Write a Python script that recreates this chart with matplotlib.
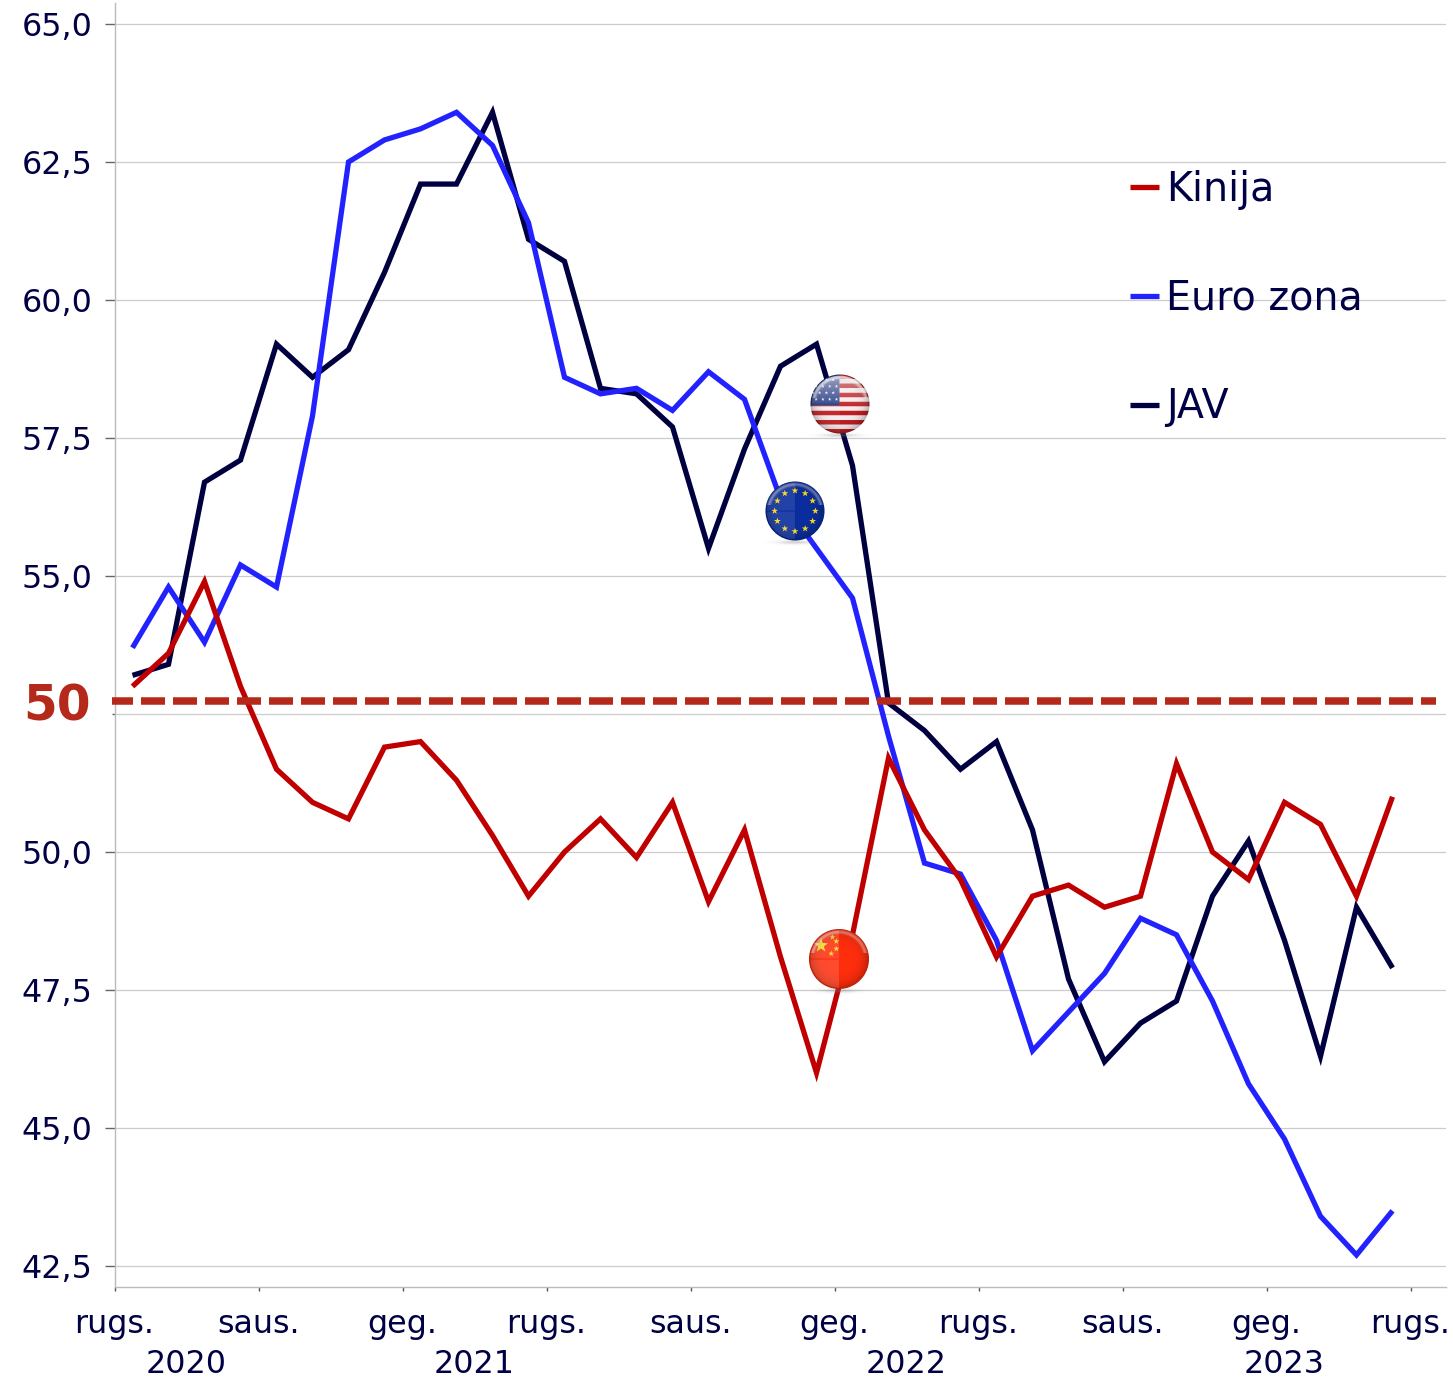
import numpy as np
import matplotlib
matplotlib.use("Agg")
import matplotlib.pyplot as plt
from matplotlib.lines import Line2D
from matplotlib.offsetbox import OffsetImage, AnnotationBbox
from matplotlib.path import Path
from matplotlib.ticker import FuncFormatter

# monthly PMI values, rugs. 2020 - rugp. 2023
kinija = [53.0, 53.6, 54.9, 53.0, 51.5, 50.9, 50.6, 51.9, 52.0, 51.3, 50.3, 49.2,
          50.0, 50.6, 49.9, 50.9, 49.1, 50.4, 48.1, 46.0, 48.5, 51.7, 50.4, 49.5,
          48.1, 49.2, 49.4, 49.0, 49.2, 51.6, 50.0, 49.5, 50.9, 50.5, 49.2, 51.0]
euro_zona = [53.7, 54.8, 53.8, 55.2, 54.8, 57.9, 62.5, 62.9, 63.1, 63.4, 62.8, 61.4,
             58.6, 58.3, 58.4, 58.0, 58.7, 58.2, 56.4, 55.5, 54.6, 52.1, 49.8, 49.6,
             48.4, 46.4, 47.1, 47.8, 48.8, 48.5, 47.3, 45.8, 44.8, 43.4, 42.7, 43.5]
jav = [53.2, 53.4, 56.7, 57.1, 59.2, 58.6, 59.1, 60.5, 62.1, 62.1, 63.4, 61.1,
       60.7, 58.4, 58.3, 57.7, 55.5, 57.3, 58.8, 59.2, 57.0, 52.7, 52.2, 51.5,
       52.0, 50.4, 47.7, 46.2, 46.9, 47.3, 49.2, 50.2, 48.4, 46.3, 49.0, 47.9]

month_labels = ["rugs.", "saus.", "geg.", "rugs.", "saus.", "geg.", "rugs.", "saus.", "geg.", "rugs."]
years = ["2020", "2021", "2022", "2023"]
year_starts = [0, 4, 16, 28]
y_ticks = [42.5, 45.0, 47.5, 50.0, 52.5, 55.0, 57.5, 60.0, 62.5, 65.0]
threshold = 52.74

TEXT = "#000044"
RED = "#C00000"
BLUE = "#2222FF"
NAVY = "#000040"
DASH = "#B5291A"
LW = 3.8

W, H = 1453, 1380
plt.rcParams["font.family"] = ["DejaVu Sans"]


# star shaped polygon, used for the flag stars
def star_mask(x, y, cx, cy, size):
    pts = []
    for k in range(10):
        rad = size if k % 2 == 0 else size * 0.4
        ang = -np.pi / 2 + k * np.pi / 5
        pts.append((cx + rad * np.cos(ang), cy + rad * np.sin(ang)))
    pts.append(pts[0])
    inside = Path(pts).contains_points(np.column_stack([x.ravel(), y.ravel()]))
    return inside.reshape(x.shape)


def flag_usa(x, y):
    face = np.zeros(x.shape + (3,))
    stripe = np.floor((y + 1) * 6.5).astype(int) % 2 == 0
    face[stripe] = (0.75, 0.12, 0.14)
    face[~stripe] = (0.97, 0.93, 0.93)
    canton = (x < -0.02) & (y < 0.05)
    face[canton] = (0.12, 0.20, 0.50)
    for i in range(-4, 1):
        for j in range(-4, 0):
            cx, cy = i * 0.23 + (0.11 if (j % 2) else 0), j * 0.22 + 0.06
            if cx < -0.02:
                face[star_mask(x, y, cx, cy, 0.06)] = (0.95, 0.95, 1.0)
    return face


def flag_eu(x, y):
    face = np.zeros(x.shape + (3,))
    face[:] = (0.04, 0.18, 0.62)
    for k in range(12):
        ang = k * np.pi / 6
        face[star_mask(x, y, 0.69 * np.sin(ang), -0.69 * np.cos(ang), 0.12)] = (1.0, 0.87, 0.1)
    return face


def flag_china(x, y):
    face = np.zeros(x.shape + (3,))
    face[:] = (1.0, 0.18, 0.05)
    face[star_mask(x, y, -0.60, -0.45, 0.25)] = (1.0, 0.88, 0.15)
    for cx, cy in [(-0.22, -0.73), (-0.09, -0.59), (-0.09, -0.34), (-0.26, -0.18)]:
        face[star_mask(x, y, cx, cy, 0.10)] = (1.0, 0.85, 0.15)
    return face


# glossy ball: flag + light on the left half + dark rim + small shadow
def glossy_ball(flag, radius, top_gloss=0.0, left_gloss=0.16):
    ss = 4
    half = int(radius) + 6
    n = 2 * half * ss
    grid = (np.arange(n) + 0.5) / ss - half
    x, y = np.meshgrid(grid / radius, grid / radius)
    r = np.sqrt(x ** 2 + y ** 2)
    rgb = flag(x, y)
    rgb = rgb * (1 - 0.28 * np.clip(r, 0, 1) ** 5)[..., None]
    # window-like reflection
    light = np.zeros(x.shape)
    light[(x < 0) & (r < 0.95)] = left_gloss
    light[np.abs(y) < 0.025] *= 0.3
    light += top_gloss * np.clip(-y + 0.2, 0, 1) * (r < 0.96)
    light += 0.35 * np.exp(-((r - 0.9) / 0.06) ** 2) * (y < -0.2)
    light = np.clip(light, 0, 1)[..., None]
    rgb = rgb * (1 - light) + light
    alpha = (r <= 1).astype(float)
    shadow = 0.35 * np.exp(-(x / 0.55) ** 2 - ((y - 1.06) / 0.06) ** 2)
    out = np.where(alpha[..., None] > 0, rgb, 0.5)
    a = np.maximum(alpha, shadow)
    # block average with premultiplied alpha
    pre = np.dstack([out * a[..., None], a])
    small = pre.reshape(n // ss, ss, n // ss, ss, 4).mean(axis=(1, 3))
    small[..., :3] /= np.maximum(small[..., 3:], 1e-6)
    return np.clip(small, 0, 1)


fig = plt.figure(figsize=(W / 100, H / 100), dpi=100)
ax = fig.add_axes([114.5 / W, 1 - 1286.5 / H, 1331 / W, 1283.5 / H])

months = np.arange(len(jav))
ax.plot(months, jav, color=NAVY, lw=LW, solid_joinstyle="miter", solid_capstyle="butt", zorder=3)
ax.plot(months, euro_zona, color=BLUE, lw=LW, solid_joinstyle="miter", solid_capstyle="butt", zorder=3.1)
ax.plot(months, kinija, color=RED, lw=LW, solid_joinstyle="miter", solid_capstyle="butt", zorder=3.2)

ax.set_xlim(-0.5, -0.5 + 1331 / 36)
ax.set_ylim(42.5 - 20.5 / 55.2, 65 + 21 / 55.2)

# dashed level with its big label
ax.plot([-0.583, 36.22], [threshold, threshold], color=DASH, lw=5.4, clip_on=False, zorder=3.3,
        linestyle=(3 / 7.5, (24 / 7.5, 8 / 7.5)), dash_capstyle="butt")
ax.text(-0.0176, threshold - 0.11, "50", transform=ax.get_yaxis_transform(), color=DASH,
        fontsize=35, fontweight="bold", ha="right", va="center")

for side in ["top", "right"]:
    ax.spines[side].set_visible(False)
for side in ["left", "bottom"]:
    ax.spines[side].set_color("#BBBBBB")
    ax.spines[side].set_linewidth(1.0)

ax.set_axisbelow(True)
ax.yaxis.grid(True, color="#CCCCCC", lw=0.9)

ax.set_yticks(y_ticks)
ax.yaxis.set_major_formatter(FuncFormatter(
    lambda v, pos: "" if abs(v - 52.5) < 0.01 else f"{v:.1f}".replace(".", ",")))
ax.tick_params(axis="y", length=7.2, width=1.0, color="#666666", pad=8.6, labelsize=22.9, labelcolor=TEXT)
ax.yaxis.get_major_ticks()[y_ticks.index(52.5)].tick1line.set_markersize(2)

month_pos = np.arange(len(month_labels)) * 4 - 0.5
ax.set_xticks(month_pos)
ax.set_xticklabels(month_labels)
ax.set_xticks(month_pos[1::3], minor=True)
ax.tick_params(axis="x", which="major", length=3, width=1.0, color="#555555", pad=13,
               labelsize=22.9, labelcolor=TEXT)
ax.tick_params(axis="x", which="minor", length=7.2, width=1.0, color="#555555")

# year labels are centred under their span
edges = [s - 0.5 for s in year_starts] + [ax.get_xlim()[1]]
for i, year in enumerate(years):
    ax.text((edges[i] + edges[i + 1]) / 2, -0.0604, year, transform=ax.get_xaxis_transform(),
            color=TEXT, fontsize=22.9, ha="center", va="center")

handles = [Line2D([], [], color=c, lw=LW, solid_capstyle="butt") for c in (RED, BLUE, NAVY)]
leg = ax.legend(handles, ["Kinija", "Euro zona", "JAV"], loc="upper left",
                bbox_to_anchor=(0.7633, 1 - 167 / 1283.5), bbox_transform=ax.transAxes,
                frameon=False, fontsize=28.5, handlelength=0.71, handletextpad=0.18,
                labelspacing=1.735, borderpad=0, borderaxespad=0, labelcolor=TEXT)
leg.set_zorder(5)

# flags sit on their lines, near the last months of each one's slide
flags = [
    (flag_usa, 29.5, 0.42, 0.06, 19.66, 58.12),
    (flag_eu, 29.5, 0.0, 0.10, 18.4, 56.18),
    (flag_china, 30, 0.0, 0.14, 19.62, 48.06),
]
for flag, radius, top_gloss, left_gloss, fx, fy in flags:
    img = glossy_ball(flag, radius, top_gloss, left_gloss)
    box = AnnotationBbox(OffsetImage(img, zoom=1, dpi_cor=False), (fx, fy), frameon=False,
                         pad=0, box_alignment=(0.5, 0.5), zorder=6)
    ax.add_artist(box)

fig.savefig("out.png", dpi=100)
